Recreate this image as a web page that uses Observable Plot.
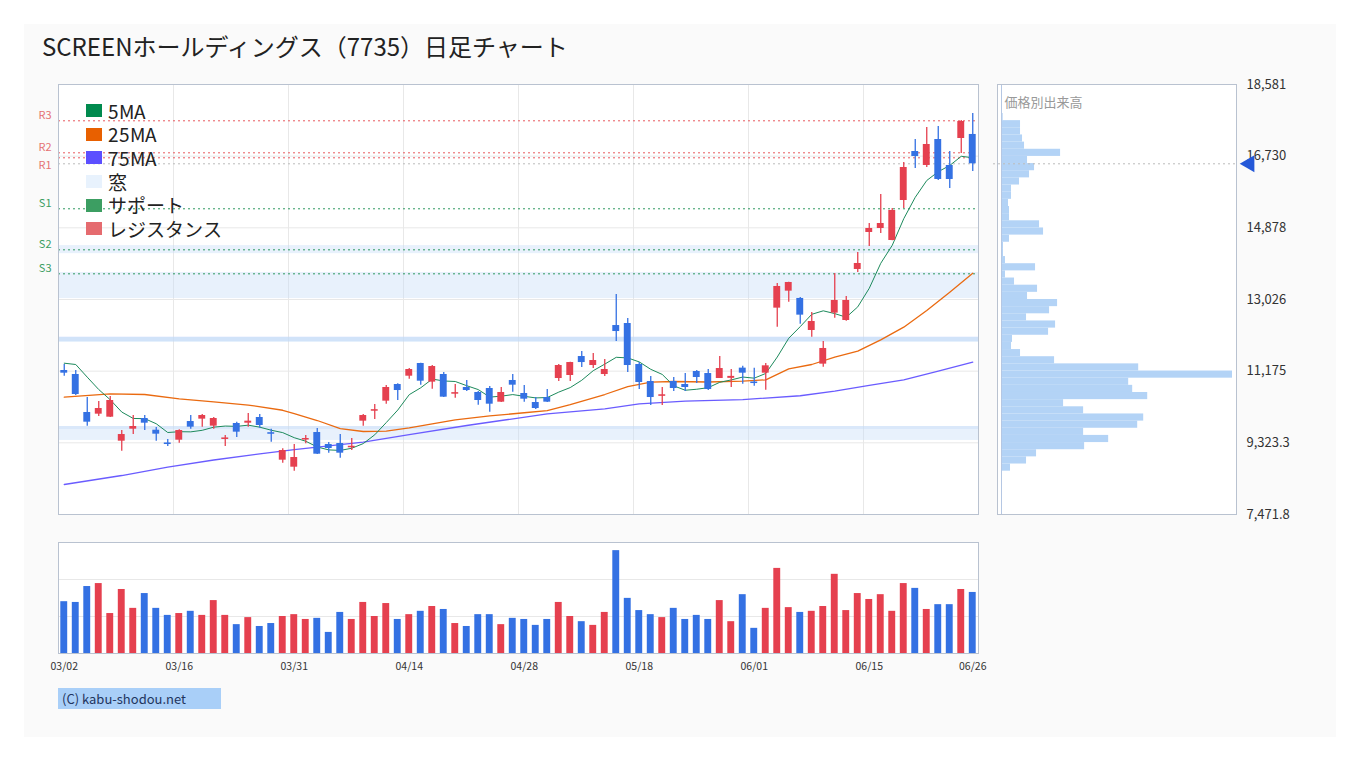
<!DOCTYPE html>
<html><head><meta charset="utf-8">
<script src="https://cdn.jsdelivr.net/npm/d3@7"></script>
<script src="https://cdn.jsdelivr.net/npm/@observablehq/plot@0.6"></script>
<style>
@font-face{font-family:"LegendJP";src:local("Noto Sans CJK JP Regular"),local("NotoSansCJKjp-Regular"),local("Noto Sans CJK JP");ascent-override:100%;descent-override:12%;line-gap-override:0%;}
body{margin:0;background:#fff;font-family:"Noto Sans CJK JP","Noto Sans",sans-serif;}
#root{position:relative;width:1360px;height:760px;overflow:hidden;background:#fff;}
#card{position:absolute;left:24px;top:24px;width:1312px;height:713px;background:#fafafa;}
.abs{position:absolute;}
#title{position:absolute;left:42px;top:34px;font-size:24px;line-height:24px;color:#222;white-space:nowrap;}
#legend{position:absolute;left:86px;top:99px;font-family:"LegendJP","Noto Sans CJK JP",sans-serif;}
#legend .it{display:flex;align-items:center;height:23.6px;font-size:19px;line-height:20px;color:#222;}
#legend .sw{width:16px;height:13px;margin-right:6px;flex:none;}
#legend .tx{display:inline-block;height:20px;line-height:20px;overflow:visible;white-space:nowrap;}
#foot{position:absolute;left:58px;top:688px;width:159px;height:21px;padding-left:4px;background:#a9cff8;color:#1f355e;font-size:13px;line-height:21px;}
</style></head>
<body>
<div id="root">
  <div id="card"></div>
  <div id="title">SCREENホールディングス（7735）日足チャート</div>
  <div id="main" class="abs" style="left:0;top:0"></div>
  <div id="vol" class="abs" style="left:0;top:530px"></div>
  <div id="prof" class="abs" style="left:990px;top:0"></div>
  <div id="legend"></div>
  <div id="foot">(C) kabu-shodou.net</div>
</div>
<script>
// ---- data ----
const dates = ["03/02","03/03","03/04","03/05","03/06","03/09","03/10","03/11","03/12","03/13",
"03/16","03/17","03/18","03/19","03/23","03/24","03/25","03/26","03/27","03/30",
"03/31","04/01","04/02","04/03","04/06","04/07","04/08","04/09","04/10","04/13",
"04/14","04/15","04/16","04/17","04/20","04/21","04/22","04/23","04/24","04/27",
"04/28","04/30","05/01","05/07","05/08","05/11","05/12","05/13","05/14","05/15",
"05/18","05/19","05/20","05/21","05/22","05/25","05/26","05/27","05/28","05/29",
"06/01","06/02","06/03","06/04","06/05","06/08","06/09","06/10","06/11","06/12",
"06/15","06/16","06/17","06/18","06/19","06/22","06/23","06/24","06/25","06/26"];
const openP = [11192,11089,10107,10064,9986,9366,9676,9952,9650,9320,
9392,9874,9935,9754,9410,9823,9831,9978,9585,8875,
8694,9395,9590,9280,9306,9195,9883,10140,10400,10830,
11045,11373,10891,11089,10580,10753,10624,10727,10374,10934,
10598,10365,10494,10985,11063,11553,11321,11088,12354,12406,
11347,10908,10525,10908,10830,11166,11114,10985,10990,11253,
10895,11123,12803,13242,13053,12226,11356,12674,12484,13802,
14758,14861,14551,15584,16850,16489,17160,16489,17186,17290];
const highP = [11347,11192,10494,10391,10520,9642,10029,10029,9719,9409,
9659,10029,10055,9978,9513,9857,10081,10055,9676,9168,
9280,9513,9693,9332,9538,9435,10055,10313,10804,10847,
11244,11381,11321,11140,10830,10934,10649,10779,10753,11089,
10804,10494,10701,11347,11407,11683,11631,11476,13155,12535,
11398,11037,10753,11011,11114,11192,11218,11553,11218,11304,
11253,11373,13440,13475,13078,12691,11942,13698,13104,14241,
14990,15739,15378,16566,17160,17470,17496,16850,17651,17832];
const lowP = [11046,10546,9754,10003,9980,9108,9538,9642,9366,9228,
9315,9676,9728,9676,9228,9461,9728,9702,9340,8798,
8591,9297,9022,9056,8927,9125,9754,9926,10322,10417,
10968,10813,10710,10494,10477,10649,10296,10115,10365,10632,
10374,10184,10365,10908,10908,11269,11243,11037,11941,11140,
10701,10287,10287,10649,10649,10856,10675,10985,10753,10839,
10788,10684,12312,12958,12389,12054,11278,12544,12467,13724,
14396,14732,14542,15378,16411,16437,16101,15895,16799,16334];
const closeP = [11123,10572,9857,10210,10417,9538,9745,9831,9547,9280,
9642,9728,10029,9952,9450,9599,9883,9771,9545,9125,
8944,9435,9030,9177,9056,9235,10029,10180,10753,10675,
11218,10916,11295,10503,10620,10675,10417,10322,10624,10813,
10451,10210,10374,11321,11398,11398,11450,11218,12199,11321,
10882,10494,10565,10727,10753,11011,10701,11243,11040,11123,
10855,11313,13363,13466,12622,12458,11761,13001,13001,13957,
14861,14990,15326,16437,16721,17031,16127,16127,17625,16532];
const volume = [1.40,1.38,1.81,1.89,1.08,1.73,1.22,1.62,1.22,1.03,
1.08,1.14,1.03,1.43,1.03,0.78,0.97,0.73,0.81,1.00,
1.05,0.92,0.95,0.57,1.11,0.92,1.38,1.00,1.35,0.92,
1.05,1.14,1.27,1.19,0.81,0.73,1.05,1.05,0.78,0.95,
0.92,0.76,0.92,1.38,1.00,0.86,0.76,1.11,2.78,1.49,
1.16,1.05,0.97,1.22,0.92,1.03,0.92,1.43,0.86,1.59,
0.68,1.22,2.30,1.24,1.11,1.14,1.27,2.14,1.16,1.62,
1.46,1.59,1.14,1.89,1.76,1.19,1.32,1.32,1.73,1.65];
const ma5 = [11381,11347,11020,10700,10436,10119,9953,9948,9816,9590,
9611,9607,9647,9728,9757,9749,9780,9728,9649,9587,
9456,9365,9216,9141,9127,9184,9304,9531,9847,10170,
10568,10746,10971,10921,10908,10799,10699,10505,10529,10570,
10525,10484,10494,10634,10751,10940,11188,11357,11533,11517,
11414,11223,11090,10796,10682,10708,10749,10887,10949,11023,
10994,11116,11540,12026,12326,12644,12734,12662,12569,12836,
13316,13962,14427,15114,15667,16101,16328,16489,16726,16688];
const ma25Day = [0,4,7,10,13,16,19,20,22,24,26,28,30,32,34,37,40,42,44,47,49,51,53,56,59,61,63,65,67,69,71,73,75,77,79];
const ma25Val = [10503,10589,10572,10460,10382,10300,10165,10080,9900,9690,9616,9625,9711,9814,9917,10020,10100,10158,10313,10572,10778,10890,10908,10895,10917,10951,11235,11347,11537,11692,11985,12312,12743,13216,13707];
const ma75Day = [0,5,9,13,17,20,26,30,35,38,42,47,50,54,59,64,67,70,73,76,79];
const ma75Val = [8247,8479,8695,8880,9039,9150,9340,9538,9771,9900,10072,10201,10330,10399,10440,10540,10658,10805,10951,11175,11408];
const srNames = ["R3","R2","R1","S1","S2","S3"];
const srValues = [17643,16816,16687,15370,14310,13690];
const windowLow  = [14210,13052,11930,11930,11930,9384,9668];
const windowHigh = [14420,13724,12050,12050,12050,9745,9745];
const profileVolume = [5,57,57,63,69,177,78,99,84,54,30,30,21,24,24,114,126,24,6,6,
12,102,12,39,108,78,168,144,75,162,141,33,30,57,159,411,692,381,393,438,
186,246,426,408,246,321,249,105,75,27];
const priceTicks = [7471.8,9323.3,11175,13026,14878,16730,18581];
const labelDays = [0,10,20,30,40,50,60,70,79];
const legendNames = ["5MA","25MA","75MA","窓","サポート","レジスタンス"];

// ---- styles ----
const RED = "#e5404f", BLUE = "#3471e3";
const FONT = '"Noto Sans CJK JP","Noto Sans",sans-serif';
const legendColors = ["#008a4e","#e86000","#5c4fff","#e8f2fd","#3c9e62","#e56b6f"];
const yDomain = [priceTicks[0], priceTicks[priceTicks.length-1]];
const candles = dates.map((d,i)=>({i, o:openP[i], h:highP[i], l:lowP[i], c:closeP[i], v:volume[i]}));
const col = d => d.c >= d.o ? RED : BLUE;
const N = dates.length;
const lastClose = closeP[N-1];

// S/R label placement (push down when colliding with the label above)
const pxPerYen = 430/(yDomain[1]-yDomain[0]);
const sr = srNames.map((n,i)=>({n, v:srValues[i], res:n[0]==="R"}));
sr.forEach((d,i)=>{ d.below = i>0 && (sr[i-1].v - d.v)*pxPerYen < 8; });

const main = Plot.plot({
  width: 990, height: 520,
  marginLeft: 58, marginRight: 12, marginTop: 84, marginBottom: 6,
  x: {type:"linear", domain:[-0.5, N-0.5], axis:null},
  y: {domain: yDomain, axis:null},
  color: {type:"identity"},
  style: {background:"transparent", fontFamily: FONT, overflow:"visible"},
  marks: [
    Plot.frame({fill:"white"}),
    Plot.ruleY(priceTicks.slice(1,-1), {stroke:"#e8e8e8"}),
    Plot.ruleX(labelDays.slice(1,-1).map(i=>i-0.5), {stroke:"#e8e8e8"}),
    Plot.rect(windowLow.map((l,i)=>({l, h:windowHigh[i]})), {y1:"l", y2:"h", fill:"#c4dcf8", fillOpacity:0.39}),
    Plot.ruleY(sr, {y:"v", stroke:d=>d.res?"#e8595e":"#2f9960", strokeDasharray:"2,3", strokeWidth:1}),
    Plot.ruleY([lastClose], {stroke:"#bbbbbb", strokeDasharray:"2,3"}),
    Plot.line(ma75Day.map((d,i)=>({d, v:ma75Val[i]})), {x:"d", y:"v", stroke:"#6a5cff", strokeWidth:1.3}),
    Plot.line(ma25Day.map((d,i)=>({d, v:ma25Val[i]})), {x:"d", y:"v", stroke:"#ea6a10", strokeWidth:1.3}),
    Plot.line(ma5.map((v,d)=>({d, v})), {x:"d", y:"v", stroke:"#1d8a5c", strokeWidth:1}),
    Plot.ruleX(candles, {x:"i", y1:"l", y2:"h", stroke:col, strokeWidth:1.3}),
    Plot.rect(candles, {x1:d=>d.i-0.3, x2:d=>d.i+0.3, y1:"o", y2:"c", fill:col}),
    Plot.text(sr.filter(d=>!d.below), {y:"v", text:"n", frameAnchor:"left", dx:-7, dy:-5, textAnchor:"end", fontSize:11, fill:d=>d.res?"#e57373":"#3c9e62"}),
    Plot.text(sr.filter(d=>d.below), {y:"v", text:"n", frameAnchor:"left", dx:-7, dy:8, textAnchor:"end", fontSize:11, fill:d=>d.res?"#e57373":"#3c9e62"}),
    Plot.frame({stroke:"#b9c2d0"})
  ]
});
document.getElementById("main").append(main);

const vol = Plot.plot({
  width: 990, height: 160,
  marginLeft: 58, marginRight: 12, marginTop: 12, marginBottom: 37,
  x: {type:"linear", domain:[-0.5, N-0.5], axis:null},
  y: {domain:[0,3], axis:null},
  color: {type:"identity"},
  style: {background:"transparent", fontFamily: FONT, overflow:"visible"},
  marks: [
    Plot.frame({fill:"white"}),
    Plot.ruleY([1,2], {stroke:"#e8e8e8"}),
    Plot.rectY(candles, {x1:d=>d.i-0.3, x2:d=>d.i+0.3, y1:0, y2:"v", fill:col}),
    Plot.frame({stroke:"#b9c2d0"}),
    Plot.text(labelDays, {x:d=>d, text:d=>dates[d], frameAnchor:"bottom", dy:16, fontSize:10.5, fill:"#333"})
  ]
});
document.getElementById("vol").append(vol);

const lo = d3.min(lowP), hi = d3.max(highP), nb = profileVolume.length, step = (hi-lo)/nb;
const bins = profileVolume.map((v,k)=>({v, top: hi - k*step, bot: hi - (k+1)*step}));
const prof = Plot.plot({
  width: 330, height: 520,
  marginLeft: 7, marginRight: 84, marginTop: 84, marginBottom: 6,
  x: {domain:[0, 704], axis:null, insetLeft:4},
  y: {domain: yDomain, axis:null},
  style: {background:"transparent", fontFamily: FONT, overflow:"visible"},
  marks: [
    Plot.frame({fill:"white"}),
    Plot.rectX(bins, {x1:0, x2:"v", y1:"bot", y2:"top", fill:"#b3d3f6"}),
    Plot.ruleX([0], {stroke:"#b5c7e3"}),
    Plot.ruleY([lastClose], {stroke:"#bbbbbb", strokeDasharray:"2,3", insetLeft:-4}),
    Plot.text(["価格別出来高"], {frameAnchor:"top-left", dx:7, dy:13, textAnchor:"start", fontSize:13, fill:"#999"}),
    Plot.frame({stroke:"#b9c2d0"}),
    Plot.text(priceTicks, {y:d=>d, text:d=>d3.format(",.5~r")(d), frameAnchor:"right", dx:10, textAnchor:"start", fontSize:13, fill:"#333"}),
    Plot.dot([lastClose], {y:d=>d, frameAnchor:"right", dx:13, symbol:"triangle", rotate:-90, r:6.3, fill:"#2458d8"})
  ]
});
document.getElementById("prof").append(prof);

const lg = document.getElementById("legend");
legendNames.forEach((n,i)=>{
  const it = document.createElement("div"); it.className="it";
  const sw = document.createElement("div"); sw.className="sw"; sw.style.background = legendColors[i];
  const t = document.createElement("span"); t.className="tx"; t.textContent = n;
  it.append(sw, t); lg.append(it);
});
</script>
</body></html>
